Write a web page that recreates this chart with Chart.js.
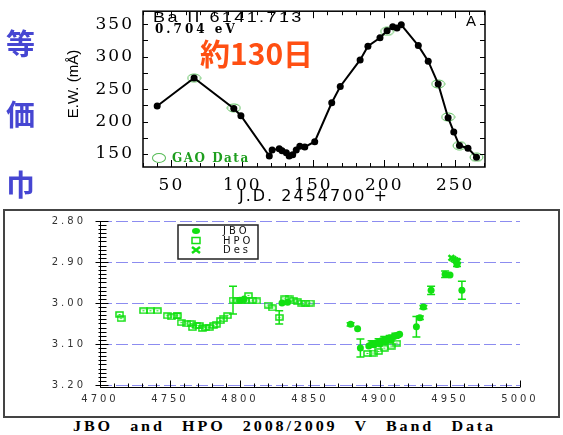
<!DOCTYPE html>
<html>
<head>
<meta charset="utf-8">
<script src="https://cdn.jsdelivr.net/npm/chart.js@4.4.1/dist/chart.umd.min.js"></script>
<style>
  html, body { margin: 0; padding: 0; background: #fff; }
  body { position: relative; width: 563px; height: 435px; overflow: hidden; }
  canvas { position: absolute; left: 0; }
  #chartTop { top: 0; }
  #chartBot { top: 209px; }
  .t { position: absolute; white-space: nowrap; line-height: 1; transform-origin: 0 0; }
  .kanji { left: 6px; font: bold 29px "Noto Sans CJK JP", sans-serif; color: #4646d2; }
  #frameBot { position: absolute; left: 3px; top: 209px; width: 557px; height: 209px; border: 2px solid #444; box-sizing: border-box; }
</style>
</head>
<body>
<div id="frameBot"></div>
<canvas id="chartTop" width="563" height="208"></canvas>
<canvas id="chartBot" width="563" height="209"></canvas>

<div class="t kanji" style="top:21px">等</div>
<div class="t kanji" style="top:92px">価</div>
<div class="t kanji" style="top:162px">巾</div>

<div class="t" style="left:72px; top:84px; transform-origin: 50% 50%; transform: translate(-50%,-50%) rotate(-90deg); font: 15px 'Liberation Sans', sans-serif;">E.W. (mÅ)</div>
<div class="t" style="left:153px; top:8px; font: 15px 'Liberation Sans', sans-serif; letter-spacing: 2px; transform: scaleX(1.2);">Ba II 6141.713</div>
<div class="t" style="left:155px; top:22px; font: bold 12px 'DejaVu Serif', serif; letter-spacing: 3px;">0.704 eV</div>
<div class="t" style="left:466px; top:12px; font: 15px 'Liberation Sans', sans-serif;">A</div>
<div class="t" style="left:200px; top:30px; font: bold 30px 'Noto Sans CJK JP', sans-serif; color: #ff4f12;">約130日</div>
<div style="position:absolute; left:152px; top:153px; width:12px; height:8px; border:1px solid #55bb55; border-radius:50%;"></div>
<div class="t" style="left:172px; top:151px; font: bold 12px 'DejaVu Serif', serif; letter-spacing: 1.5px; color: #1e9e1e;">GAO Data</div>

<div class="t" style="left:73px; top:419px; font: bold 14px 'Liberation Serif', serif; letter-spacing: 2.5px; word-spacing: 9px; transform: scaleX(1.15);">JBO and HPO 2008/2009 V Band Data</div>

<script>
// 上: Ba II 6141.713 の等価巾 (J.D. 2454700 +)
const jd = [40, 66, 94, 99, 119, 121, 126, 128, 131, 133, 135.5, 138, 140.5, 144, 151, 163, 169, 183, 188.5, 197, 202, 206, 209, 212, 224, 231, 238, 245, 249, 253, 259, 265];
const ew = [224, 267, 220, 209, 147, 156, 158, 155, 152, 147, 149, 156, 162, 161, 169, 229, 254, 295, 316, 329, 340, 346, 344, 349, 317, 293, 258, 206, 184, 163, 159, 145];
const gaoJd = [66, 94, 202, 238, 245, 253, 265];
const gaoEw = [267, 221, 339, 258, 207, 163, 145];
const jdTicks = [50, 100, 150, 200, 250];
const ewTicks = [150, 200, 250, 300, 350];

// 下: JBO / HPO / Des V band
const hpoJD = [4714, 4715, 4731, 4736, 4741, 4748, 4751, 4755, 4758, 4762, 4765, 4766, 4769, 4771, 4773, 4775, 4778, 4781, 4783, 4786, 4788, 4791, 4795, 4798, 4801, 4804, 4806, 4809, 4812, 4820, 4823, 4828, 4832, 4835, 4838, 4841, 4844, 4847, 4850, 4891, 4895, 4899, 4903, 4908, 4912];
const hpoMag = [3.028, 3.038, 3.019, 3.019, 3.019, 3.031, 3.034, 3.031, 3.048, 3.051, 3.050, 3.060, 3.055, 3.055, 3.062, 3.060, 3.060, 3.055, 3.052, 3.043, 3.039, 3.031, 2.993, 2.995, 2.993, 2.993, 2.982, 2.993, 2.995, 3.005, 3.012, 3.035, 2.990, 2.990, 2.993, 2.997, 3.000, 3.000, 3.000, 3.123, 3.122, 3.118, 3.110, 3.105, 3.098];
const hpoErr = [0, 0, 0, 0, 0, 0, 0, 0.006, 0, 0, 0, 0, 0, 0, 0, 0, 0, 0, 0, 0, 0, 0, 0.034, 0, 0, 0, 0, 0, 0, 0, 0, 0.016, 0, 0, 0, 0, 0, 0, 0, 0, 0, 0, 0, 0, 0];
const jboJD = [4800, 4803, 4830, 4834, 4879, 4884, 4886, 4892, 4894, 4896, 4897, 4899, 4900, 4901, 4903, 4904, 4905, 4907, 4908, 4910, 4911, 4913, 4914, 4926, 4928.5, 4931, 4936.5, 4946.5, 4950, 4955, 4958.5];
const jboMag = [2.993, 2.990, 3.000, 2.998, 3.052, 3.063, 3.110, 3.105, 3.100, 3.102, 3.098, 3.095, 3.100, 3.092, 3.090, 3.095, 3.088, 3.085, 3.090, 3.082, 3.080, 3.078, 3.076, 3.058, 3.036, 3.010, 2.969, 2.930, 2.932, 2.906, 2.969];
const jboErr = [0, 0, 0, 0, 0.004, 0, 0.022, 0, 0.008, 0, 0, 0.008, 0, 0, 0.008, 0, 0, 0.006, 0, 0, 0.006, 0, 0, 0.025, 0.004, 0.004, 0.01, 0.008, 0, 0.005, 0.022];
const desJD = [4951, 4952.5, 4954, 4955.5];
const desMag = [2.890, 2.893, 2.896, 2.898];
const bandTicks = [4700, 4750, 4800, 4850, 4900, 4950, 5000];
const magTicks = [2.8, 2.9, 3.0, 3.1, 3.2];

const GREEN = '#12e012';

function toPoints(xs, ys) { return xs.map((v, i) => ({ x: v, y: ys[i] })); }

// 楕円・四角のマーカー画像
function ellipseMark(w, h, color) {
  const c = document.createElement('canvas');
  c.width = w + 2; c.height = h + 2;
  const g = c.getContext('2d');
  g.strokeStyle = color; g.lineWidth = 1;
  g.beginPath(); g.ellipse(c.width / 2, c.height / 2, w / 2, h / 2, 0, 0, Math.PI * 2); g.stroke();
  return c;
}
function boxMark(w, h, color) {
  const c = document.createElement('canvas');
  c.width = w; c.height = h;
  const g = c.getContext('2d');
  g.strokeStyle = color; g.lineWidth = 1.5;
  g.strokeRect(1, 1, w - 2, h - 2);
  g.fillStyle = color; g.fillRect(w / 2 - 1, h / 2 - 0.5, 2, 1);
  return c;
}

// 上のグラフの枠と内向きの目盛り
const topFrame = {
  id: 'topFrame',
  beforeDraw(chart) { chart.ctx.letterSpacing = '2px'; },
  afterDatasetsDraw(chart) {
    const { ctx, chartArea: a, scales: { x, y } } = chart;
    ctx.save();
    ctx.strokeStyle = '#000';
    ctx.lineWidth = 1.5;
    ctx.strokeRect(a.left, a.top, a.right - a.left, a.bottom - a.top);
    ctx.lineWidth = 1;
    ctx.beginPath();
    for (let v = 30; v <= 270; v += 10) {
      const px = Math.round(x.getPixelForValue(v)) + 0.5;
      const len = v % 50 === 0 ? 7 : 4;
      ctx.moveTo(px, a.bottom); ctx.lineTo(px, a.bottom - len);
      ctx.moveTo(px, a.top); ctx.lineTo(px, a.top + len);
    }
    for (let v = 150; v <= 350; v += 25) {
      const py = Math.round(y.getPixelForValue(v)) + 0.5;
      ctx.moveTo(a.left, py); ctx.lineTo(a.left + 5, py);
      ctx.moveTo(a.right, py); ctx.lineTo(a.right - 5, py);
    }
    ctx.stroke();
    ctx.restore();
  }
};

new Chart(document.getElementById('chartTop').getContext('2d'), {
  type: 'scatter',
  data: {
    datasets: [{
      label: 'EW',
      data: toPoints(jd, ew),
      showLine: true,
      borderColor: '#000',
      borderWidth: 2,
      pointRadius: 3.5,
      pointBackgroundColor: '#000',
      pointBorderColor: '#000',
      pointBorderWidth: 0
    }, {
      label: 'GAO Data',
      data: toPoints(gaoJd, gaoEw),
      showLine: false,
      pointStyle: ellipseMark(13, 8, '#55bb55'),
      pointRadius: 5
    }]
  },
  options: {
    responsive: false,
    animation: false,
    devicePixelRatio: 1,
    layout: { padding: { left: 55, right: 78, top: 7, bottom: 0 } },
    plugins: { legend: { display: false }, tooltip: { enabled: false } },
    scales: {
      x: {
        type: 'linear', min: 30, max: 271,
        afterFit(s) { s.height = 41; },
        afterBuildTicks(s) { s.ticks = jdTicks.map(v => ({ value: v })); },
        grid: { display: false },
        border: { display: false },
        ticks: { padding: 0, color: '#000', font: { family: 'DejaVu Serif', size: 17 }, callback: v => String(v) },
        title: { display: true, text: 'J.D. 2454700 +', color: '#000', font: { family: 'DejaVu Sans', size: 16 }, padding: { top: 0, bottom: 2 } }
      },
      y: {
        min: 130, max: 370,
        afterFit(s) { s.width = 88; },
        afterBuildTicks(s) { s.ticks = ewTicks.map(v => ({ value: v })); },
        grid: { display: false },
        border: { display: false },
        ticks: { padding: 1, color: '#000', font: { family: 'DejaVu Serif', size: 17 }, callback: v => String(v) }
      }
    }
  },
  plugins: [topFrame]
});

// 下のグラフ: 破線グリッド、軸、目盛り、誤差棒、凡例
const bottomDeco = {
  id: 'bottomDeco',
  beforeDraw(chart) { chart.ctx.letterSpacing = '3px'; },
  beforeDatasetsDraw(chart) {
    const { ctx, chartArea: a, scales: { x, y } } = chart;
    ctx.save();
    ctx.strokeStyle = '#8c8cf0';
    ctx.lineWidth = 1;
    ctx.setLineDash([12, 4]);
    ctx.beginPath();
    magTicks.forEach(v => {
      const py = Math.round(y.getPixelForValue(v)) + 0.5;
      ctx.moveTo(a.left, py); ctx.lineTo(a.right, py);
    });
    ctx.stroke();
    ctx.setLineDash([]);

    ctx.strokeStyle = '#000';
    ctx.beginPath();
    const ax = Math.round(a.left) + 0.5, ay = Math.round(a.bottom) + 2.5;
    ctx.moveTo(ax, a.top); ctx.lineTo(ax, ay);
    ctx.moveTo(ax, ay); ctx.lineTo(a.right, ay);
    for (let k = 0; k <= 40; k++) {
      const py = Math.round(y.getPixelForValue(2.8 + k * 0.01)) + 0.5;
      const major = k % 10 === 0;
      ctx.moveTo(ax - (major ? 5 : 2), py); ctx.lineTo(ax + (major ? 8 : 6), py);
    }
    for (let v = 4700; v <= 5000; v += 10) {
      const px = Math.round(x.getPixelForValue(v)) + 0.5;
      ctx.moveTo(px, ay); ctx.lineTo(px, ay - (v % 50 === 0 ? 7 : 4));
    }
    ctx.stroke();

    // 誤差棒
    ctx.strokeStyle = GREEN;
    ctx.lineWidth = 1.5;
    ctx.beginPath();
    chart.data.datasets.forEach(ds => {
      if (!ds.errors) return;
      ds.data.forEach((p, i) => {
        const e = ds.errors[i];
        if (!e) return;
        const px = x.getPixelForValue(p.x);
        const y1 = y.getPixelForValue(p.y - e), y2 = y.getPixelForValue(p.y + e);
        ctx.moveTo(px, y1); ctx.lineTo(px, y2);
        ctx.moveTo(px - 4, y1); ctx.lineTo(px + 4, y1);
        ctx.moveTo(px - 4, y2); ctx.lineTo(px + 4, y2);
      });
    });
    ctx.stroke();
    ctx.restore();
  },
  afterDatasetsDraw(chart) {
    const { ctx, chartArea: a } = chart;
    const bx = a.left + 78, by = a.top + 4, bw = 80, bh = 34;
    ctx.save();
    ctx.fillStyle = '#fff';
    ctx.fillRect(bx, by, bw, bh);
    ctx.strokeStyle = '#222';
    ctx.lineWidth = 1.5;
    ctx.strokeRect(bx, by, bw, bh);
    ctx.font = '10px "DejaVu Sans"';
    ctx.textBaseline = 'middle';
    chart.data.datasets.forEach((ds, i) => {
      const cy = by + 6 + i * 9.5, mx = bx + 18;
      ctx.fillStyle = GREEN; ctx.strokeStyle = GREEN;
      if (i === 0) {
        ctx.beginPath(); ctx.ellipse(mx, cy, 4, 3, 0, 0, Math.PI * 2); ctx.fill();
      } else if (i === 1) {
        ctx.lineWidth = 1.5; ctx.strokeRect(mx - 4, cy - 3, 8, 6);
      } else {
        ctx.lineWidth = 2.5; ctx.beginPath();
        ctx.moveTo(mx - 4, cy - 3); ctx.lineTo(mx + 4, cy + 3);
        ctx.moveTo(mx - 4, cy + 3); ctx.lineTo(mx + 4, cy - 3);
        ctx.stroke();
      }
      ctx.fillStyle = '#111';
      ctx.fillText(ds.label, bx + 45, cy + 0.5);
    });
    ctx.restore();
  }
};

new Chart(document.getElementById('chartBot').getContext('2d'), {
  type: 'scatter',
  data: {
    datasets: [{
      label: 'JBO',
      data: toPoints(jboJD, jboMag),
      errors: jboErr,
      pointStyle: 'circle',
      pointRadius: 3.5,
      pointBackgroundColor: GREEN,
      pointBorderColor: GREEN,
      pointBorderWidth: 0
    }, {
      label: 'HPO',
      data: toPoints(hpoJD, hpoMag),
      errors: hpoErr,
      pointStyle: boxMark(9, 7, GREEN),
      pointRadius: 4
    }, {
      label: 'Des',
      data: toPoints(desJD, desMag),
      pointStyle: 'crossRot',
      pointRadius: 4,
      pointBorderColor: GREEN,
      pointBorderWidth: 2.5
    }]
  },
  options: {
    responsive: false,
    animation: false,
    devicePixelRatio: 1,
    layout: { padding: { left: 30, right: 43, top: 10, bottom: 0 } },
    plugins: { legend: { display: false }, tooltip: { enabled: false } },
    scales: {
      x: {
        type: 'linear', min: 4700, max: 5000,
        afterFit(s) { s.height = 33; },
        afterBuildTicks(s) { s.ticks = bandTicks.map(v => ({ value: v })); },
        grid: { display: false },
        border: { display: false },
        ticks: { padding: 0, color: '#333', font: { family: 'DejaVu Sans', size: 10 }, callback: v => String(v) }
      },
      y: {
        min: 2.8, max: 3.2, reverse: true,
        afterFit(s) { s.width = 70; },
        afterBuildTicks(s) { s.ticks = magTicks.map(v => ({ value: v })); },
        grid: { display: false },
        border: { display: false },
        ticks: { padding: 6, color: '#333', font: { family: 'DejaVu Sans', size: 10 }, callback: v => Number(v).toFixed(2) }
      }
    }
  },
  plugins: [bottomDeco]
});
</script>
</body>
</html>
